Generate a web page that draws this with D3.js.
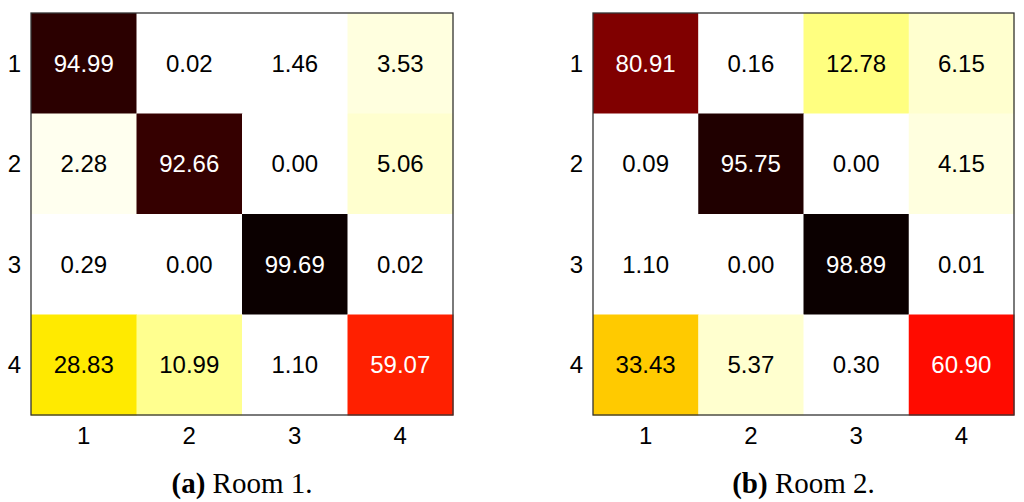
<!DOCTYPE html>
<html><head><meta charset="utf-8">
<script src="https://cdn.jsdelivr.net/npm/d3@7"></script>
<style>body{margin:0;background:#fff;} svg{display:block;}</style>
</head><body>
<svg id="c" width="1024" height="502"></svg>
<script>
const labels = ["1","2","3","4"];
const room1 = [
  [94.99, 0.02, 1.46, 3.53],
  [2.28, 92.66, 0.00, 5.06],
  [0.29, 0.00, 99.69, 0.02],
  [28.83, 10.99, 1.10, 59.07]
];
const room2 = [
  [80.91, 0.16, 12.78, 6.15],
  [0.09, 95.75, 0.00, 4.15],
  [1.10, 0.00, 98.89, 0.01],
  [33.43, 5.37, 0.30, 60.90]
];
const captions = [["(a)", " Room 1."], ["(b)", " Room 2."]];

// reversed 64-level "hot" colormap: min -> white, max -> black
function hotRev(v, lo, hi) {
  const t = Math.max(0, Math.min(1, 1 - (v - lo) / (hi - lo)));
  const i = Math.min(63, Math.floor(t * 64)) + 1;
  const r = Math.min(1, i / 24);
  const g = Math.max(0, Math.min(1, (i - 24) / 24));
  const b = Math.max(0, Math.min(1, (i - 48) / 16));
  return d3.rgb(r * 255, g * 255, b * 255).toString();
}

const svg = d3.select("#c");
const panels = [
  {data: room1, x0: 31, x1: 453, cap: captions[0]},
  {data: room2, x0: 593, x1: 1014, cap: captions[1]}
];
const y0 = 13, y1 = 415;

panels.forEach(p => {
  const x = d3.scaleBand().domain(labels).range([p.x0, p.x1]);
  const y = d3.scaleBand().domain(labels).range([y0, y1]);
  const g = svg.append("g");
  const cells = [];
  p.data.forEach((row, i) => row.forEach((v, j) => cells.push({r: labels[i], c: labels[j], v})));
  const [lo, hi] = d3.extent(cells, d => d.v);
  g.selectAll("rect.cell").data(cells).join("rect")
    .attr("class", "cell")
    .attr("x", d => x(d.c)).attr("y", d => y(d.r))
    .attr("width", x.bandwidth() + 0.5).attr("height", y.bandwidth() + 0.5)
    .attr("fill", d => hotRev(d.v, lo, hi));
  g.selectAll("text.val").data(cells).join("text")
    .attr("class", "val")
    .attr("x", d => x(d.c) + x.bandwidth() / 2)
    .attr("y", d => y(d.r) + y.bandwidth() / 2 + 8.5)
    .attr("text-anchor", "middle")
    .attr("font-family", "Liberation Sans, Arial, sans-serif")
    .attr("font-size", 24)
    .attr("fill", d => d.v > 50 ? "#fff" : "#000")
    .text(d => d.v.toFixed(2));
  g.append("rect")
    .attr("x", p.x0).attr("y", y0).attr("width", p.x1 - p.x0).attr("height", y1 - y0)
    .attr("fill", "none").attr("stroke", "#333").attr("stroke-width", 1.3);

  const ax = g.append("g").attr("transform", `translate(0,${y1 + 10})`)
    .call(d3.axisBottom(x).tickSize(0).tickPadding(0));
  const ay = g.append("g").attr("transform", `translate(${p.x0 - 10},0)`)
    .call(d3.axisLeft(y).tickSize(0).tickPadding(0));
  [ax, ay].forEach(a => {
    a.select(".domain").remove();
    a.selectAll("text").attr("font-family", "Liberation Sans, Arial, sans-serif")
      .attr("font-size", 24).attr("fill", "#000");
  });
  ax.selectAll("text").attr("dy", "0.71em").attr("y", 2);
  ay.selectAll("text").attr("dy", "0.35em");

  const cap = g.append("text")
    .attr("x", (p.x0 + p.x1) / 2).attr("y", 493)
    .attr("text-anchor", "middle")
    .attr("font-family", "Liberation Serif, Times New Roman, serif")
    .attr("font-size", 29).attr("fill", "#000");
  cap.append("tspan").attr("font-weight", "bold").text(p.cap[0]);
  cap.append("tspan").text(p.cap[1]);
});
</script>
</body></html>
